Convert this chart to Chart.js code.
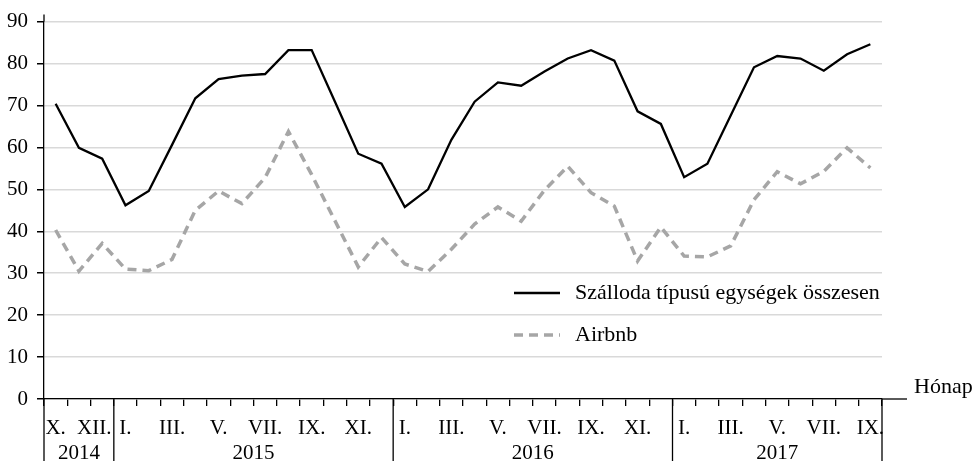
<!DOCTYPE html>
<html>
<head>
<meta charset="utf-8">
<script src="https://cdn.jsdelivr.net/npm/chart.js@4.4.1/dist/chart.umd.min.js"></script>
<style>
  html, body { margin: 0; padding: 0; background: #fff; }
  #wrap { width: 976px; height: 461px; }
</style>
</head>
<body>
<div id="wrap"><canvas id="chart" width="976" height="461"></canvas></div>
<script>
// months from X. 2014 to IX. 2017
const months = [
  'X.', 'XI.', 'XII.',
  'I.', 'II.', 'III.', 'IV.', 'V.', 'VI.', 'VII.', 'VIII.', 'IX.', 'X.', 'XI.', 'XII.',
  'I.', 'II.', 'III.', 'IV.', 'V.', 'VI.', 'VII.', 'VIII.', 'IX.', 'X.', 'XI.', 'XII.',
  'I.', 'II.', 'III.', 'IV.', 'V.', 'VI.', 'VII.', 'VIII.', 'IX.'
];
// only every other month gets a label (XII. 2014 nudged left of the year line)
const tickLabels = [
  'X.', '', 'XII.   ',
  'I.', '', 'III.', '', 'V.', '', 'VII.', '', 'IX.', '', 'XI.', '',
  'I.', '', 'III.', '', 'V.', '', 'VII.', '', 'IX.', '', 'XI.', '',
  'I.', '', 'III.', '', 'V.', '', 'VII.', '', 'IX.'
];
const years = ['2014', '2015', '2016', '2017'];
const monthsPerYear = [3, 12, 12, 9];

const hotels = [
  70.4, 59.9, 57.3, 46.2, 49.6, 60.6, 71.7, 76.3, 77.1, 77.5, 83.2, 83.2,
  70.9, 58.5, 56.1, 45.8, 50.0, 61.8, 70.9, 75.5, 74.7, 78.1, 81.2, 83.2,
  80.7, 68.6, 65.6, 52.9, 56.1, 67.6, 79.1, 81.8, 81.2, 78.3, 82.2, 84.6
];
const airbnb = [
  40.3, 30.5, 37.1, 31.0, 30.6, 33.3, 45.0, 49.6, 46.6, 52.8, 63.8, 53.5,
  42.5, 31.5, 38.5, 32.2, 30.4, 35.7, 41.7, 45.8, 42.4, 49.8, 55.5, 49.2,
  46.0, 32.9, 41.0, 34.1, 33.9, 36.5, 47.5, 54.2, 51.3, 54.3, 59.9, 55.1
];
const yTicks = [0, 10, 20, 30, 40, 50, 60, 70, 80, 90];

const FONT = '"Liberation Serif", "Times New Roman", serif';

// year row, separators, axis extension, legend and axis title
const decor = {
  id: 'decor',
  afterDraw(chart) {
    const { ctx, chartArea, scales: { x } } = chart;
    const step = x.getPixelForValue(1) - x.getPixelForValue(0);
    const axisY = chartArea.bottom;
    ctx.save();
    ctx.strokeStyle = '#000';
    ctx.lineWidth = 1.3;

    // x axis runs past the plot to the title
    ctx.beginPath();
    ctx.moveTo(chartArea.right, axisY);
    ctx.lineTo(chartArea.right + 25, axisY);
    ctx.stroke();

    // y axis a bit above 90
    ctx.beginPath();
    ctx.moveTo(chartArea.left, chartArea.top);
    ctx.lineTo(chartArea.left, chartArea.top - 7);
    ctx.stroke();

    // year separators + year labels
    ctx.font = '21px ' + FONT;
    ctx.fillStyle = '#000';
    ctx.textAlign = 'center';
    ctx.textBaseline = 'middle';
    let start = 0;
    const edges = [x.getPixelForValue(0) - step / 2];
    years.forEach((yr, i) => {
      const end = start + monthsPerYear[i];
      const left = x.getPixelForValue(start) - step / 2;
      const right = x.getPixelForValue(end - 1) + step / 2;
      edges.push(right);
      ctx.fillText(yr, (left + right) / 2, axisY + 54);
      start = end;
    });
    edges.forEach(px => {
      ctx.beginPath();
      ctx.moveTo(px, axisY);
      ctx.lineTo(px, chart.height);
      ctx.stroke();
    });

    // axis title
    ctx.font = '22px ' + FONT;
    ctx.textAlign = 'left';
    ctx.textBaseline = 'alphabetic';
    ctx.fillText('Hónap', chartArea.right + 32, axisY - 6);

    // legend
    const items = chart.data.datasets;
    const rows = [293, 335];
    items.forEach((ds, i) => {
      const ly = rows[i];
      ctx.strokeStyle = ds.borderColor;
      ctx.lineWidth = ds.borderWidth;
      ctx.setLineDash(ds.borderDash || []);
      ctx.beginPath();
      ctx.moveTo(514, ly);
      ctx.lineTo(560, ly);
      ctx.stroke();
      ctx.setLineDash([]);
      ctx.fillStyle = '#000';
      ctx.textBaseline = 'middle';
      ctx.fillText(ds.label, 575, ly);
    });
    ctx.restore();
  }
};

new Chart(document.getElementById('chart'), {
  type: 'line',
  data: {
    labels: months,
    datasets: [
      {
        label: 'Szálloda típusú egységek összesen',
        data: hotels,
        borderColor: '#000000',
        borderWidth: 2.3,
        pointRadius: 0,
        tension: 0
      },
      {
        label: 'Airbnb',
        data: airbnb,
        borderColor: '#a6a6a6',
        borderWidth: 3.5,
        borderDash: [9, 6],
        pointRadius: 0,
        tension: 0
      }
    ]
  },
  options: {
    responsive: false,
    devicePixelRatio: 1,
    animation: false,
    layout: { padding: { left: 0, right: 94, top: 20, bottom: 0 } },
    plugins: {
      legend: { display: false },
      tooltip: { enabled: false }
    },
    scales: {
      x: {
        type: 'category',
        offset: true,
        grid: {
          offset: true,
          drawOnChartArea: false,
          drawTicks: true,
          tickLength: 7,
          color: '#000',
          lineWidth: 1.3
        },
        border: { display: true, color: '#000', width: 1.3 },
        ticks: {
          autoSkip: false,
          maxRotation: 0,
          padding: 10,
          color: '#000',
          font: { family: FONT, size: 21 },
          callback: (val, i) => tickLabels[i]
        },
        afterFit: (scale) => { scale.height = 62; }
      },
      y: {
        min: 0,
        max: 90,
        afterBuildTicks: (scale) => { scale.ticks = yTicks.map(v => ({ value: v })); },
        grid: {
          color: '#d9d9d9',
          lineWidth: 1.5,
          tickColor: '#000',
          tickLength: 7
        },
        border: { display: true, color: '#000', width: 1.3 },
        ticks: {
          padding: 9,
          color: '#000',
          font: { family: FONT, size: 21 }
        },
        afterFit: (scale) => { scale.width = 44; }
      }
    }
  },
  plugins: [decor]
});
</script>
</body>
</html>
